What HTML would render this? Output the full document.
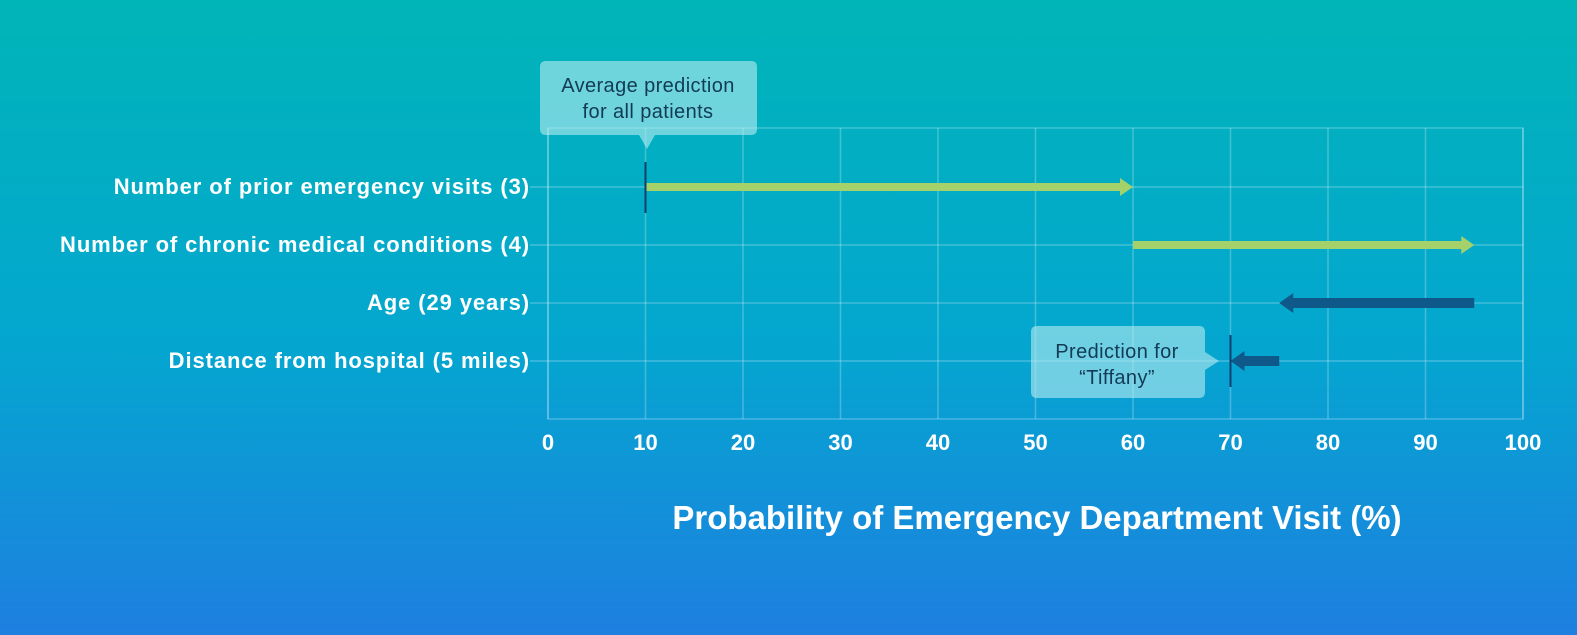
<!DOCTYPE html>
<html><head><meta charset="utf-8"><style>
body{margin:0;width:1577px;height:635px;overflow:hidden;background:linear-gradient(180deg,#00b5b8 0%,#04a6d0 55%,#1e7fe0 100%);font-family:"Liberation Sans",sans-serif}
svg{display:block}
</style></head><body>
<svg width="1577" height="635">
<g id="grid"></g>
<g id="marks"></g>
<g id="labels"></g>
<text x="1037" y="529" text-anchor="middle" fill="#fff" font-size="33" font-weight="bold">Probability of Emergency Department Visit (%)</text>
<g>
<path d="M546,61 H751 Q757,61 757,67 V129 Q757,135 751,135 H655 L647,149 L639,135 H546 Q540,135 540,129 V67 Q540,61 546,61 Z" fill="#b9ecf0" fill-opacity="0.6"/>
<text x="648" y="92" text-anchor="middle" fill="#123b55" font-size="20" letter-spacing="0.4">Average prediction</text>
<text x="648" y="118" text-anchor="middle" fill="#123b55" font-size="20" letter-spacing="0.4">for all patients</text>
</g>
<g>
<path d="M1037,326 H1199 Q1205,326 1205,332 V352 L1219,361 L1205,370 V392 Q1205,398 1199,398 H1037 Q1031,398 1031,392 V332 Q1031,326 1037,326 Z" fill="#b9ecf0" fill-opacity="0.6"/>
<text x="1117" y="358" text-anchor="middle" fill="#123b55" font-size="20" letter-spacing="0.4">Prediction for</text>
<text x="1117" y="384" text-anchor="middle" fill="#123b55" font-size="20" letter-spacing="0.4">“Tiffany”</text>
</g>
</svg>
<script>
const features=["Number of prior emergency visits (3)","Number of chronic medical conditions (4)","Age (29 years)","Distance from hospital (5 miles)"];
const starts=[10,60,95,75];
const ends=[60,95,75,70];
const ticks=[0,10,20,30,40,50,60,70,80,90,100];
const baseline=10, finalPred=70;
const NS="http://www.w3.org/2000/svg";
const X=v=>548+v*9.75;
const rowY=[187,245,303,361];
function el(t,a,p){const e=document.createElementNS(NS,t);for(const k in a)e.setAttribute(k,a[k]);p.appendChild(e);return e;}
const grid=document.getElementById('grid'),marks=document.getElementById('marks'),labels=document.getElementById('labels');
const gs={stroke:"#ffffff","stroke-opacity":"0.25","stroke-width":"1.5",fill:"none"};
el('rect',Object.assign({x:548,y:128,width:975,height:291},gs),grid);
ticks.forEach(t=>{
 const l=el('line',Object.assign({x1:X(t),x2:X(t),y1:128,y2:419},gs),grid);
 
 
 const tx=el('text',{x:X(t),y:450,'text-anchor':'middle',fill:'#fff','font-size':22,'font-weight':'bold'},labels);
 tx.textContent=t;
 
 
});
features.forEach((f,i)=>{
 const y=rowY[i];
 const l=el('line',Object.assign({x1:530,x2:1523,y1:y,y2:y},gs),grid);
 
 
 const tx=el('text',{x:530,y:y+7,'text-anchor':'end',fill:'#fff','font-size':22,'font-weight':'bold','letter-spacing':'0.9'},labels);
 tx.textContent=f;
 
 
 const s=starts[i],e=ends[i],up=e>s;
 const col=up?'#a5d16a':'#0e588a';
 const h=up?4:5, head=up?13:14, hh=up?9:10;
 const x1=X(s),x2=X(e),dir=up?1:-1;
 const xb=x2-dir*head;
 const p=el('path',{d:`M${x1},${y-h} L${xb},${y-h} L${xb},${y-hh} L${x2},${y} L${xb},${y+hh} L${xb},${y+h} L${x1},${y+h} Z`,fill:col},marks);
 
 
});
const b=el('line',{x1:X(baseline),x2:X(baseline),y1:162,y2:213,stroke:'#0e3f6e','stroke-width':2},marks);


const fp=el('line',{x1:X(finalPred),x2:X(finalPred),y1:335,y2:387,stroke:'#0e3f6e','stroke-width':2},marks);


</script>
</body></html>
